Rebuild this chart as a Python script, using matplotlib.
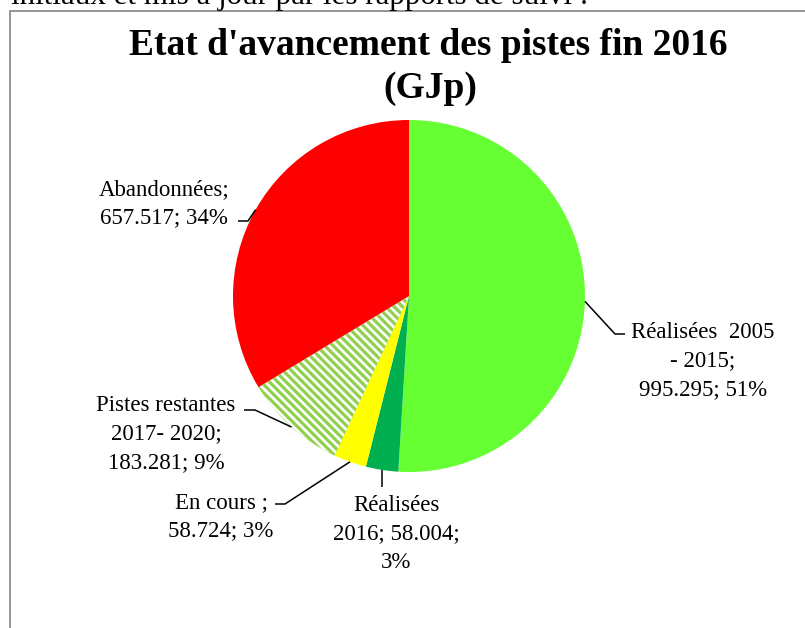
import numpy as np
import matplotlib.pyplot as plt
from matplotlib.patches import Rectangle

plt.rcParams['font.family'] = ['Liberation Serif', 'DejaVu Serif']
plt.rcParams['hatch.linewidth'] = 1.9

# data
categories = ['Réalisées 2005 - 2015', 'Réalisées 2016', 'En cours',
              'Pistes restantes 2017- 2020', 'Abandonnées']
values = [995.295, 58.004, 58.724, 183.281, 657.517]
colors = ['#66FF33', '#00B050', '#FFFF00', '#92D050', '#FF0000']
label_lines = [['Réalisées  2005', '- 2015;', '995.295; 51%'],
               ['Réalisées', '2016; 58.004;', '3%'],
               ['En cours ;', '58.724; 3%'],
               ['Pistes restantes', '2017- 2020;', '183.281; 9%'],
               ['Abandonnées;', '657.517; 34%']]

# layout, in pixels from the top-left corner
W, H = 805, 628
cx, cy, R = 409, 296, 176
lab_xy = [(703, 338), (396, 511), (221, 508), (166, 411), (164, 195)]
elbows = [[(615, 334), (625, 334)],
          [(382, 487)],
          [(285, 504), (275, 504)],
          [(255, 410), (244, 410)],
          [(248, 221), (238, 221)]]
step = 28.5

fig = plt.figure(figsize=(W / 100, H / 100), dpi=100)
ax = fig.add_axes([0, 0, 1, 1])

wedges, _ = ax.pie(values, colors=colors, startangle=90, counterclock=False,
                   center=(cx, H - cy), radius=R,
                   wedgeprops=dict(linewidth=0, edgecolor='white'))
wedges[3].set_hatch('\\\\\\\\')

for i, w in enumerate(wedges):
    mid = np.deg2rad((w.theta1 + w.theta2) / 2)
    xs = [cx + R * np.cos(mid)] + [p[0] for p in elbows[i]]
    ys = [H - cy + R * np.sin(mid)] + [H - p[1] for p in elbows[i]]
    ax.plot(xs, ys, color='black', lw=1.1, solid_capstyle='butt')
    x0, y0 = lab_xy[i]
    for j, line in enumerate(label_lines[i]):
        ax.text(x0, H - (y0 + j * step), line, ha='center', va='baseline',
                fontsize=16.5)

ax.text(428, H - 55, "Etat d'avancement des pistes fin 2016", ha='center',
        va='baseline', fontsize=27, fontweight='bold')
ax.text(430, H - 98, '(GJp)', ha='center', va='baseline', fontsize=27,
        fontweight='bold')

# clipped sentence above the chart and the chart frame
ax.text(588, H - 4, 'initiaux et mis à jour par les rapports de suivi :',
        ha='right', va='baseline', fontsize=22.3)
ax.add_patch(Rectangle((10, -20), 900, H - 11 + 20, fill=False,
                       edgecolor='#8c8c8c', lw=1.3, clip_on=False))

ax.set_xlim(0, W)
ax.set_ylim(0, H)
ax.axis('off')

fig.savefig('out.png', dpi=100)
